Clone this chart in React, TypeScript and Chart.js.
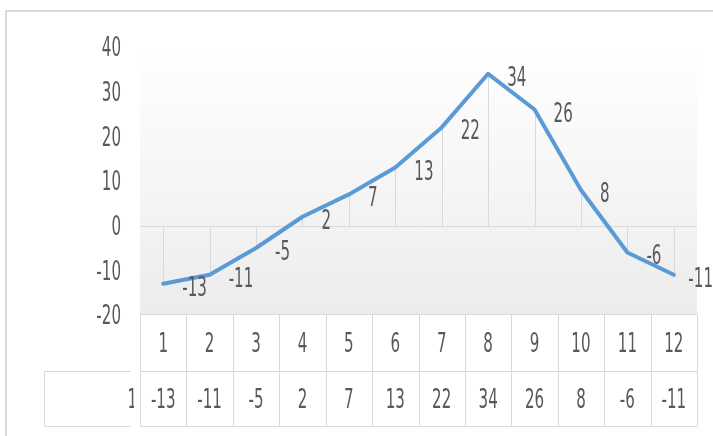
import React, { useEffect, useRef } from "react";
import { Chart, registerables } from "chart.js";

Chart.register(...registerables);

// Monthly series shown as a line with a data table underneath
const categories = ["1", "2", "3", "4", "5", "6", "7", "8", "9", "10", "11", "12"];
const values = [-13, -11, -5, 2, 7, 13, 22, 34, 26, 8, -6, -11];
const seriesName = "Series1";
const yMin = -20;
const yMax = 40;
const yStep = 10;

const W = 713;
const H = 436;
const TEXT = "#595959";
const GRID = "#d9d9d9";
const LINE = "#5B9BD5";
const FONT_SIZE = 26;
const SX = 0.58; // horizontal compression of the narrow lettering

function drawText(
  ctx: CanvasRenderingContext2D,
  text: string,
  x: number,
  cy: number,
  align: CanvasTextAlign
) {
  ctx.save();
  ctx.translate(x, cy + FONT_SIZE * 0.3645);
  ctx.scale(SX, 1);
  ctx.font = `${FONT_SIZE}px "DejaVu Sans"`;
  ctx.fillStyle = TEXT;
  ctx.textAlign = align;
  ctx.textBaseline = "alphabetic";
  ctx.fillText(text, 0, 0);
  ctx.restore();
}

function textWidth(ctx: CanvasRenderingContext2D, text: string) {
  ctx.save();
  ctx.font = `${FONT_SIZE}px "DejaVu Sans"`;
  const w = ctx.measureText(text).width * SX;
  ctx.restore();
  return w;
}

function hLine(ctx: CanvasRenderingContext2D, x1: number, x2: number, y: number, w = 1) {
  ctx.beginPath();
  ctx.moveTo(x1, y);
  ctx.lineTo(x2, y);
  ctx.lineWidth = w;
  ctx.stroke();
}

function vLine(ctx: CanvasRenderingContext2D, x: number, y1: number, y2: number, w = 1) {
  ctx.beginPath();
  ctx.moveTo(x, y1);
  ctx.lineTo(x, y2);
  ctx.lineWidth = w;
  ctx.stroke();
}

const decorPlugin = {
  id: "decor",
  beforeDraw(chart: any) {
    const { ctx, chartArea } = chart;
    const ca = chartArea;
    ctx.save();
    ctx.fillStyle = "#ffffff";
    ctx.fillRect(0, 0, W, H);
    // outer frame
    ctx.strokeStyle = GRID;
    hLine(ctx, 5, W, 11, 2);
    vLine(ctx, 6, 10, H, 2);
    // plot area gradient
    const g = ctx.createLinearGradient(0, ca.top, 0, ca.bottom);
    g.addColorStop(0, "#ffffff");
    g.addColorStop(1, "#ececec");
    ctx.fillStyle = g;
    ctx.fillRect(ca.left, ca.top, ca.right - ca.left, ca.bottom - ca.top);
    ctx.restore();
  },
  beforeDatasetsDraw(chart: any) {
    const { ctx, chartArea } = chart;
    const x = chart.scales.x;
    const y = chart.scales.y;
    const y0 = Math.round(y.getPixelForValue(0)) + 0.5;
    ctx.save();
    ctx.strokeStyle = GRID;
    // horizontal axis at zero
    hLine(ctx, chartArea.left, chartArea.right, y0);
    // drop lines from each point to the axis
    values.forEach((v, i) => {
      const px = Math.round(x.getPixelForValue(i)) + 0.5;
      vLine(ctx, px, y0, y.getPixelForValue(v));
    });
    ctx.restore();
  },
  afterDatasetsDraw(chart: any) {
    const { ctx, chartArea } = chart;
    const x = chart.scales.x;
    const y = chart.scales.y;
    ctx.save();

    // value axis labels
    y.ticks.forEach((t: any) => {
      drawText(ctx, String(t.value), chartArea.left - 19, y.getPixelForValue(t.value), "right");
    });

    // data labels to the right of each point
    values.forEach((v, i) => {
      const label = String(v);
      const tw = textWidth(ctx, label);
      const lx = Math.min(x.getPixelForValue(i) + 19, W - tw);
      drawText(ctx, label, lx, y.getPixelForValue(v) + 2.5, "left");
    });

    // data table
    const half = (x.getPixelForValue(1) - x.getPixelForValue(0)) / 2;
    const top = Math.round(chartArea.bottom) - 0.5;
    const mid = top + 57;
    const bottom = mid + 55;
    const left = chartArea.left;
    const right = chartArea.right;
    ctx.strokeStyle = GRID;
    hLine(ctx, left, right, top);
    hLine(ctx, left, right, mid);
    hLine(ctx, left, right, bottom);
    for (let i = 0; i <= categories.length; i++) {
      const bx = Math.round(x.getPixelForValue(i) - half) + 0.5;
      vLine(ctx, bx, top, bottom);
    }
    // series name cell
    const nameLeft = 44.5;
    hLine(ctx, nameLeft, left - 9, mid);
    hLine(ctx, nameLeft, left - 9, bottom);
    vLine(ctx, nameLeft, mid, bottom);

    categories.forEach((c, i) => {
      drawText(ctx, c, x.getPixelForValue(i), (top + mid) / 2, "center");
    });
    values.forEach((v, i) => {
      drawText(ctx, String(v), x.getPixelForValue(i), (mid + bottom) / 2, "center");
    });

    // series name, clipped by the narrow key cell
    ctx.save();
    ctx.beginPath();
    ctx.rect(left - 11, mid, 5, bottom - mid);
    ctx.clip();
    drawText(ctx, seriesName, left - 3, (mid + bottom) / 2, "right");
    ctx.restore();

    ctx.restore();
  },
};

export default function App() {
  const canvasRef = useRef<HTMLCanvasElement | null>(null);

  useEffect(() => {
    const canvas = canvasRef.current;
    if (!canvas) return;
    const chart = new Chart(canvas, {
      type: "line",
      data: {
        labels: categories,
        datasets: [
          {
            label: seriesName,
            data: values,
            borderColor: LINE,
            backgroundColor: LINE,
            borderWidth: 4,
            pointRadius: 0,
            tension: 0,
            borderJoinStyle: "round",
            borderCapStyle: "round",
          },
        ],
      },
      options: {
        responsive: false,
        animation: false,
        events: [],
        layout: { padding: { left: 140, right: 16, top: 47, bottom: 121 } },
        plugins: {
          legend: { display: false },
          tooltip: { enabled: false },
          title: { display: false },
        },
        scales: {
          x: {
            type: "category",
            offset: true,
            display: false,
          },
          y: {
            type: "linear",
            min: yMin,
            max: yMax,
            ticks: { stepSize: yStep },
            display: false,
          },
        },
      },
      plugins: [decorPlugin],
    });
    return () => chart.destroy();
  }, []);

  return (
    <div style={{ position: "fixed", left: 0, top: 0, width: W, height: H, background: "#fff" }}>
      <canvas ref={canvasRef} width={W} height={H} style={{ display: "block", width: W, height: H }} />
    </div>
  );
}
